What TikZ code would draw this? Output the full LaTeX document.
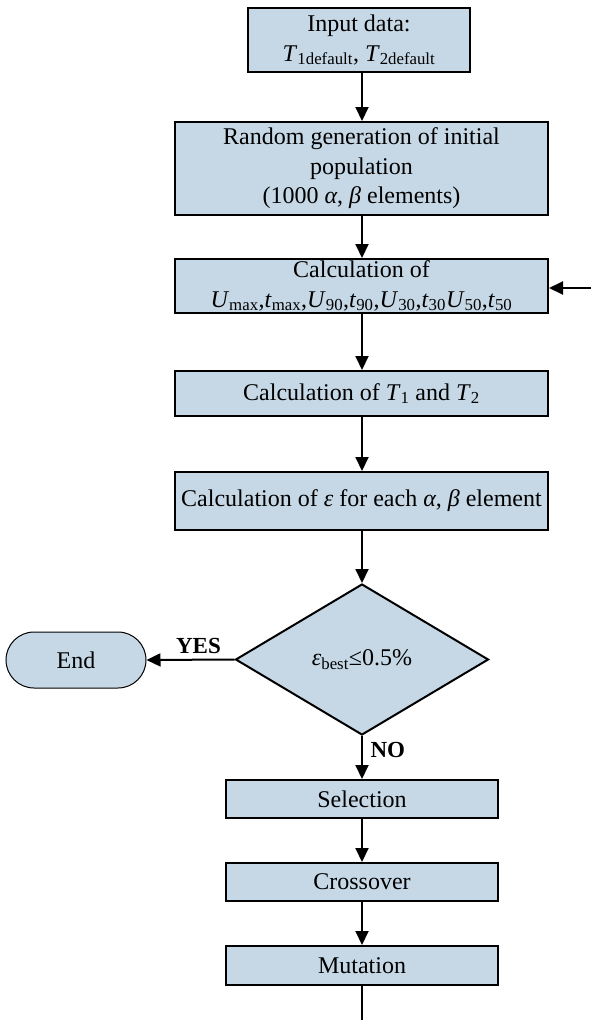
\documentclass[tikz,border=0pt]{standalone}
\usepackage{fontspec}
\setmainfont{Liberation Serif}
\usetikzlibrary{arrows.meta,shapes.geometric,shapes.misc}
\newcommand{\sbs}[1]{\textsubscript{#1}}
\tikzset{
  boxstyle/.style={draw=black, line width=2pt, fill=boxfill, inner sep=0pt, align=center,
    font=\fontsize{24}{29.5}\selectfont},
  conn/.style={line width=2pt, -{Triangle[length=14pt,width=13pt]}},
  lbl/.style={font=\fontsize{23}{27}\selectfont\bfseries}
}
\definecolor{boxfill}{HTML}{C6D8E6}
\begin{document}
\begin{tikzpicture}[x=1pt,y=-1pt]
\useasboundingbox (0,0) rectangle (591,1020);
\node[boxstyle, minimum width=222, minimum height=64] (inp) at (359,40)
  {Input data:\\ \textit{T}\sbs{1default}, \textit{T}\sbs{2default}};
\node[boxstyle, minimum width=373, minimum height=93] (gen) at (361.5,168.5)
  {Random generation of initial\\ population\\ (1000 \textit{α}, \textit{β} elements)};
\node[boxstyle, minimum width=373, minimum height=54] (calc) at (361.5,286)
  {Calculation of\\ \textit{U}\sbs{max},\textit{t}\sbs{max},\textit{U}\sbs{90},\textit{t}\sbs{90},\textit{U}\sbs{30},\textit{t}\sbs{30}\textit{U}\sbs{50},\textit{t}\sbs{50}};
\node[boxstyle, minimum width=373, minimum height=45] (tt) at (361.5,393.5)
  {Calculation of \textit{T}\sbs{1} and \textit{T}\sbs{2}};
\node[boxstyle, minimum width=373, minimum height=58] (eps) at (361.5,501)
  {Calculation of \textit{ε} for each \textit{α}, \textit{β} element};
\node[boxstyle, diamond, aspect=1.68, minimum width=253, minimum height=151] (dec) at (362,659.5)
  {\textit{ε}\sbs{best}≤0.5\%};
\node[boxstyle, line width=1pt, rounded rectangle, minimum width=140, minimum height=56] (end) at (76,660) {End};
\node[boxstyle, minimum width=272, minimum height=38] (sel) at (362,799) {Selection};
\node[boxstyle, minimum width=272, minimum height=38] (cro) at (362,882) {Crossover};
\node[boxstyle, minimum width=272, minimum height=39] (mut) at (362,965.5) {Mutation};
\coordinate (rin) at (591,288);
\coordinate (bot) at (362,1020);
\draw[conn] (inp.south -| 362,0) -- (gen.north -| 362,0);
\draw[conn] (gen.south -| 362,0) -- (calc.north -| 362,0);
\draw[conn] (calc.south -| 362,0) -- (tt.north -| 362,0);
\draw[conn] (tt.south -| 362,0) -- (eps.north -| 362,0);
\draw[conn] (eps.south -| 362,0) -- (dec.north);
\draw[conn] (rin) -- (calc.east |- rin);
\draw[conn] (dec.west) -- node[lbl, above, xshift=8pt, yshift=2pt] (yes) {YES} (end.east);
\draw[conn] (dec.south) -- (sel.north);
\node[lbl, anchor=west] (no) at (367,750) {NO};
\draw[conn] (sel.south) -- (cro.north);
\draw[conn] (cro.south) -- (mut.north);
\draw[line width=2pt] (mut.south) -- (bot);
\end{tikzpicture}
\end{document}
